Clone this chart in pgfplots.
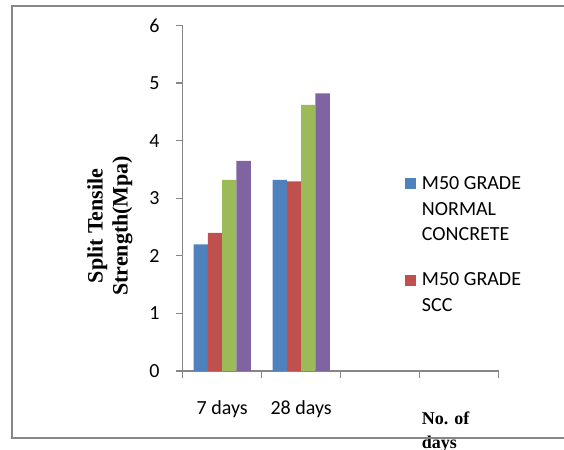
\documentclass[border=0pt]{standalone}
\usepackage{fontspec}
\setmainfont{Carlito}
\newfontfamily\timesf{Liberation Serif}
\usepackage{pgfplots}
\pgfplotsset{compat=1.18}
\definecolor{cblue}{HTML}{4F81BD}
\definecolor{cred}{HTML}{C0504D}
\definecolor{cgreen}{HTML}{9BBB59}
\definecolor{cpurple}{HTML}{8064A2}
\definecolor{axisgray}{HTML}{868686}
\begin{document}
\begin{tikzpicture}
\useasboundingbox (0,0) rectangle (282pt,225pt);
\begin{axis}[
  at={(91.35pt,39.5pt)}, anchor=south west,
  scale only axis, width=158pt, height=172.8pt,
  xmin=-0.5, xmax=3.5, ymin=0, ymax=6,
  ytick={0,1,2,3,4,5,6},
  xtick={-0.5,0.5,1.5,2.5,3.5}, xticklabels={},
  extra x ticks={0,1}, extra x tick labels={7 days,28 days},
  extra x tick style={major tick length=0pt, xticklabel style={yshift=-11.5pt}},
  axis lines*=left,
  axis line style={axisgray, line width=0.6pt},
  tick style={axisgray, line width=0.6pt},
  tick align=outside, major tick length=3.5pt,
  ybar=0pt, bar width=7.15pt,
  enlargelimits=false, clip=false,
  /pgf/number format/assume math mode=true,
  ticklabel style={font=\fontsize{10}{12}\selectfont},
  yticklabel style={xshift=-4.5pt},
  ylabel={Split Tensile\\Strength(Mpa)},
  ylabel style={at={(axis description cs:-0.230,0.42)}, anchor=center, align=center,
    font=\timesf\bfseries\fontsize{11}{12.5}\selectfont},
  xlabel={No. of\\days},
  xlabel style={at={(axis description cs:0.756,-0.118)}, anchor=north west, align=left, inner sep=0pt,
    font=\timesf\bfseries\fontsize{9}{12}\selectfont},
  legend style={at={(axis description cs:0.7035,0.563)}, anchor=north west, draw=none, fill=none,
    inner sep=0pt, outer sep=0pt, row sep=40.2pt, cells={anchor=base west},
    nodes={inner sep=0pt},
    font=\fontsize{10}{12.85}\selectfont,
    /tikz/every odd column/.append style={column sep=3pt}},
  legend image code/.code={\fill[#1] (0pt,0pt) rectangle (5.5pt,5.5pt);},
]
\addplot[fill=cblue, draw=none] coordinates {(0,2.20) (1,3.32)};
\addlegendentry{\parbox[t]{70pt}{M50 GRADE\\NORMAL\\CONCRETE}}
\addplot[fill=cred, draw=none] coordinates {(0,2.40) (1,3.29)};
\addlegendentry{\parbox[t]{70pt}{M50 GRADE\\SCC}}
\addplot[fill=cgreen, draw=none] coordinates {(0,3.32) (1,4.62)};
\addplot[fill=cpurple, draw=none] coordinates {(0,3.65) (1,4.82)};
\end{axis}
\draw[axisgray, line width=1pt] (290pt,6pt) -- (6pt,6pt) -- (6pt,221.75pt) -- (290pt,221.75pt);
\end{tikzpicture}
\end{document}
